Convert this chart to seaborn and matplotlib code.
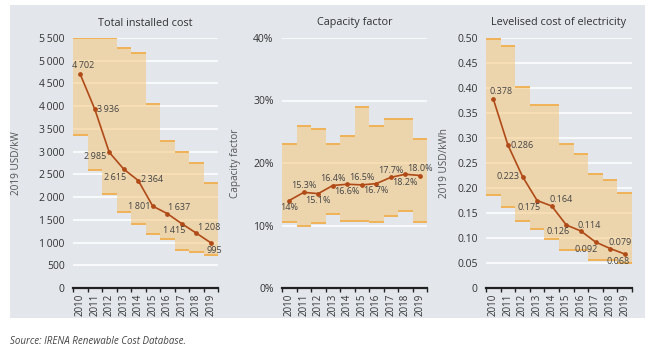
import numpy as np
import matplotlib
matplotlib.use('Agg')
import matplotlib.pyplot as plt
import seaborn as sns
from matplotlib.patches import Rectangle
from matplotlib.ticker import FuncFormatter, MultipleLocator

years = [str(y) for y in range(2010, 2020)]

# total installed cost, 2019 USD/kW
cost_top = [5500, 5500, 5500, 5270, 5180, 4040, 3240, 2990, 2760, 2310]
cost_bottom = [3370, 2590, 2060, 1670, 1410, 1190, 1080, 830, 800, 730]
cost_avg = [4702, 3936, 2985, 2615, 2364, 1801, 1637, 1415, 1208, 995]

# capacity factor, %
cf_top = [23.0, 26.0, 25.5, 23.0, 24.3, 29.0, 26.0, 27.1, 27.1, 23.9]
cf_bottom = [10.5, 9.9, 10.4, 11.9, 10.7, 10.7, 10.6, 11.5, 12.3, 10.6]
cf_avg = [14.0, 15.3, 15.1, 16.4, 16.6, 16.5, 16.7, 17.7, 18.2, 18.0]
cf_labels = ['14%', '15.3%', '15.1%', '16.4%', '16.6%', '16.5%', '16.7%', '17.7%', '18.2%', '18.0%']

# LCOE, 2019 USD/kWh
lcoe_top = [0.498, 0.484, 0.403, 0.367, 0.367, 0.289, 0.269, 0.229, 0.216, 0.191]
lcoe_bottom = [0.187, 0.162, 0.134, 0.119, 0.098, 0.077, 0.077, 0.057, 0.056, 0.050]
lcoe_avg = [0.378, 0.286, 0.223, 0.175, 0.164, 0.126, 0.114, 0.092, 0.079, 0.068]

# label offsets in pixels (dx, dy, ha)
cost_offs = [(3, 9, 'center'), (2, 0, 'left'), (-3, -4, 'right'), (-9, -8, 'center'), (3, 1, 'left'),
             (-2, 0, 'right'), (1, 6, 'left'), (-8, -7, 'center'), (2, 6, 'left'), (4, -8, 'center')]
cf_offs = [(0, -7, 'center'), (0, 7, 'center'), (0, -7, 'center'), (0, 7, 'center'), (0, -7, 'center'),
           (0, 7, 'center'), (0, -7, 'center'), (0, 7, 'center'), (0, -8, 'center'), (0, 7, 'center')]
lcoe_offs = [(8, 7, 'center'), (3, 0, 'left'), (-3, 0, 'right'), (-8, -7, 'center'), (9, 6, 'center'),
             (-8, -7, 'center'), (8, 6, 'center'), (-9, -7, 'center'), (10, 6, 'center'), (-7, -7, 'center')]

BG = '#e3e7ec'
BAR = '#f5c67a'
EDGE = '#f0b257'
LINE = '#b04a17'
TXT = '#333333'

plt.rcParams['font.family'] = ['Open Sans', 'DejaVu Sans']

fig = plt.figure(figsize=(6.52, 3.54), dpi=100)
fig.add_artist(Rectangle((10 / 652, 1 - 318 / 354), 635 / 652, 313 / 354,
                         transform=fig.transFigure, facecolor=BG, edgecolor='none', zorder=-10))


def thin_k(v, pos):
    s = f'{int(round(v)):,}'
    return s.replace(',', '\u2009')


def panel(left, width, top, bottom, avg, labels, offs, ylim, step, fmt, title, ylabel, ylab_x):
    ax = fig.add_axes([left, 1 - 288 / 354, width, 250 / 354])
    ax.patch.set_visible(False)
    heights = np.array(top) - np.array(bottom)
    sns.barplot(x=years, y=heights, color=BAR, alpha=0.55, saturation=1, width=1,
                linewidth=0, ax=ax, zorder=2)
    for p, b in zip(ax.patches, bottom):
        p.set_y(b)
    xs = np.arange(len(years))
    ax.hlines(top, xs - 0.5, xs + 0.5, color=EDGE, lw=1.4, zorder=3)
    ax.hlines(bottom, xs - 0.5, xs + 0.5, color=EDGE, lw=1.4, zorder=3)
    sns.pointplot(x=years, y=avg, color=LINE, markers='o', markersize=2.5, linewidth=1.2,
                  errorbar=None, ax=ax, zorder=4)
    for i, (v, lab, (dx, dy, ha)) in enumerate(zip(avg, labels, offs)):
        ax.annotate(lab, (i, v), xytext=(dx, dy), textcoords='offset pixels',
                    ha=ha, va='center', fontsize=6.5, color='#444444', zorder=5)
    ax.set_xlim(-0.5, len(years) - 0.5)
    ax.set_ylim(*ylim)
    ax.yaxis.set_major_locator(MultipleLocator(step))
    ax.yaxis.set_major_formatter(FuncFormatter(fmt))
    ax.set_axisbelow(True)
    ax.yaxis.grid(True, color='white', lw=1.1, zorder=0)
    ax.xaxis.grid(False)
    for s in ['left', 'right', 'top']:
        ax.spines[s].set_visible(False)
    ax.spines['bottom'].set_color('#222222')
    ax.spines['bottom'].set_linewidth(1.6)
    ax.spines['bottom'].set_zorder(6)
    ax.set_xticks(xs)
    ax.set_xticklabels(years, rotation=90, fontsize=7, color=TXT)
    ax.set_xticks(np.arange(len(years) + 1) - 0.5, minor=True)
    ax.tick_params(axis='x', which='major', length=0, pad=4)
    ax.tick_params(axis='x', which='minor', length=3, width=1, color='#222222')
    ax.tick_params(axis='y', length=0, labelsize=7.5, labelcolor=TXT, pad=6)
    ax.set_xlabel('')
    ax.set_title(title, fontsize=7.8, color=TXT, pad=9)
    ax.set_ylabel(ylabel, fontsize=7.2, color='#555555')
    ax.yaxis.set_label_coords(ylab_x, 0.5)
    return ax


panel(73 / 652, 145 / 652, cost_top, cost_bottom, cost_avg, [thin_k(v, 0) for v in cost_avg], cost_offs,
      (0, 5500), 500, thin_k, 'Total installed cost', '2019 USD/kW', -0.35)
panel(282 / 652, 145 / 652, cf_top, cf_bottom, cf_avg, cf_labels, cf_offs,
      (0, 40), 10, lambda v, p: f'{v:.0f}%', 'Capacity factor', 'Capacity factor', -0.28)
panel(486 / 652, 146 / 652, lcoe_top, lcoe_bottom, lcoe_avg, [f'{v:.3f}' for v in lcoe_avg], lcoe_offs,
      (0, 0.5), 0.05, lambda v, p: '0' if v < 1e-9 else f'{v:.2f}', 'Levelised cost of electricity',
      '2019 USD/kWh', -0.245)

fig.text(10 / 652, 1 - 341 / 354, 'Source: IRENA Renewable Cost Database.', fontsize=7,
         style='italic', color='#444444', va='center')

fig.savefig('out.png', dpi=100)
